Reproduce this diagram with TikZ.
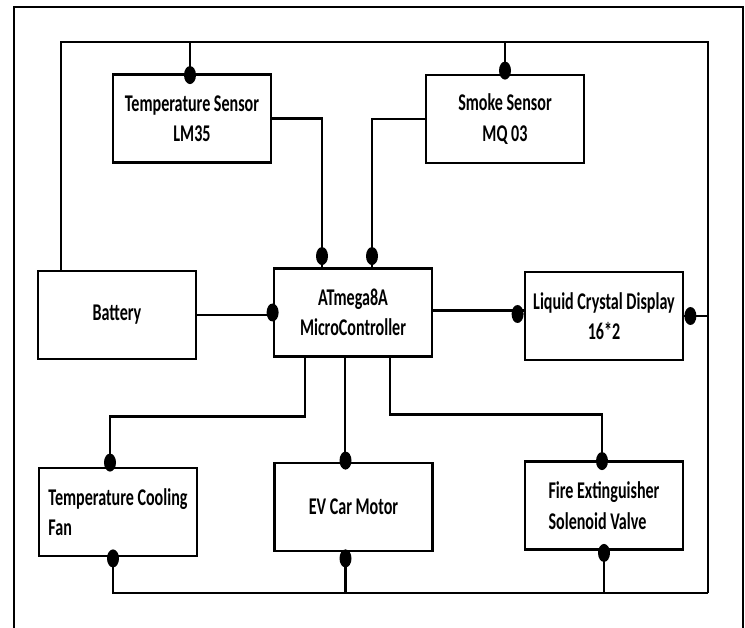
\documentclass[tikz,border=0pt]{standalone}
\usepackage{fontspec}
\newfontfamily\blockfont{Carlito}[FakeStretch=0.67]
\usetikzlibrary{positioning,calc}

\newcommand{\joint}[1]{\fill #1 ellipse [x radius=6pt, y radius=9pt];}

\begin{document}
\begin{tikzpicture}[x=1pt,y=-1pt,
    block/.style={draw, line width=2.8pt, minimum width=158pt, minimum height=88pt,
        inner sep=2pt, align=center, font=\blockfont\bfseries\fontsize{24}{30.5}\selectfont},
    wire/.style={line width=2.8pt}]
            \useasboundingbox (0,0) rectangle (745,628);

            % Outer frame
            \draw[line width=2pt] (14,628) -- (14,7) -- (743,7) -- (743,628);

            % Blocks
            \node[block] (temp) at (192,118.5) {Temperature Sensor\\LM35};
            \node[block] (smoke) at (505,119) {Smoke Sensor\\MQ 03};
            \node[block] (batt) at (117,315) {Battery};
            \node[block] (mcu) at (353,312.5) {ATmega8A\\MicroController};
            \node[block] (lcd) at (604,316) {Liquid Crystal Display\\16*2};
            \node[block,align=left] (fan) at (118,512) {Temperature Cooling\\Fan};
            \node[block] (motor) at (353.5,507) {EV Car Motor};
            \node[block,align=left] (valve) at (604,505.5) {Fire Extinguisher\\Solenoid Valve};

            % Supply rails
            \coordinate (tl) at (61,42);
            \coordinate (tr) at (708,42);
            \coordinate (br) at (708,593);
            \draw[wire] (batt.north -| tl) -- (tl) -- (tr) -- (br);
            \draw[wire] ([xshift=-2pt]temp.north) -- ([xshift=-2pt]temp.north |- tl);
            \draw[wire] (smoke.north) -- (smoke.north |- tl);
            \draw[wire] (lcd.east) -- (lcd.east -| br);
            \draw[wire] ([xshift=-5pt]fan.south) |- (br);
            \draw[wire] ([xshift=-8pt]motor.south) -- ([xshift=-8pt]motor.south |- br);
            \draw[wire] (valve.south) -- (valve.south |- br);

            % Sensors and battery to controller
            \draw[wire] (temp.east) -| ([xshift=-31pt]mcu.north);
            \draw[wire] (smoke.west) -| ([xshift=19pt]mcu.north);
            \draw[wire] (batt.east) -- (batt.east -| mcu.west);
            \draw[wire] ([yshift=2pt]mcu.east) -- ([yshift=2pt]mcu.east -| lcd.west);

            % Controller to outputs
            \draw[wire] ([xshift=-48pt]mcu.south) -- ++(0,59) -| ([xshift=-8pt]fan.north);
            \draw[wire] ([xshift=-8pt]mcu.south) -- ([xshift=-8pt]mcu.south |- motor.north);
            \draw[wire] ([xshift=37pt]mcu.south) -- ++(0,57) -| ([xshift=-2pt]valve.north);

            % Joints
            \joint{([xshift=-2pt,yshift=-2pt]temp.north)}
            \joint{([yshift=3pt]smoke.north)}
            \joint{([xshift=-31pt,yshift=11pt]mcu.north)}
            \joint{([xshift=19pt,yshift=11pt]mcu.north)}
            \joint{(mcu.west)}
            \joint{([xshift=-6pt,yshift=2pt]lcd.west)}
            \joint{([xshift=6pt]lcd.east)}
            \joint{([xshift=-8pt,yshift=4pt]fan.north)}
            \joint{([xshift=-5pt,yshift=-1pt]fan.south)}
            \joint{([xshift=-8pt,yshift=1pt]motor.north)}
            \joint{([xshift=-8pt,yshift=-6pt]motor.south)}
            \joint{([xshift=-2pt,yshift=-1pt]valve.north)}
            \joint{([yshift=-2pt]valve.south)}
        \end{tikzpicture}
\end{document}
